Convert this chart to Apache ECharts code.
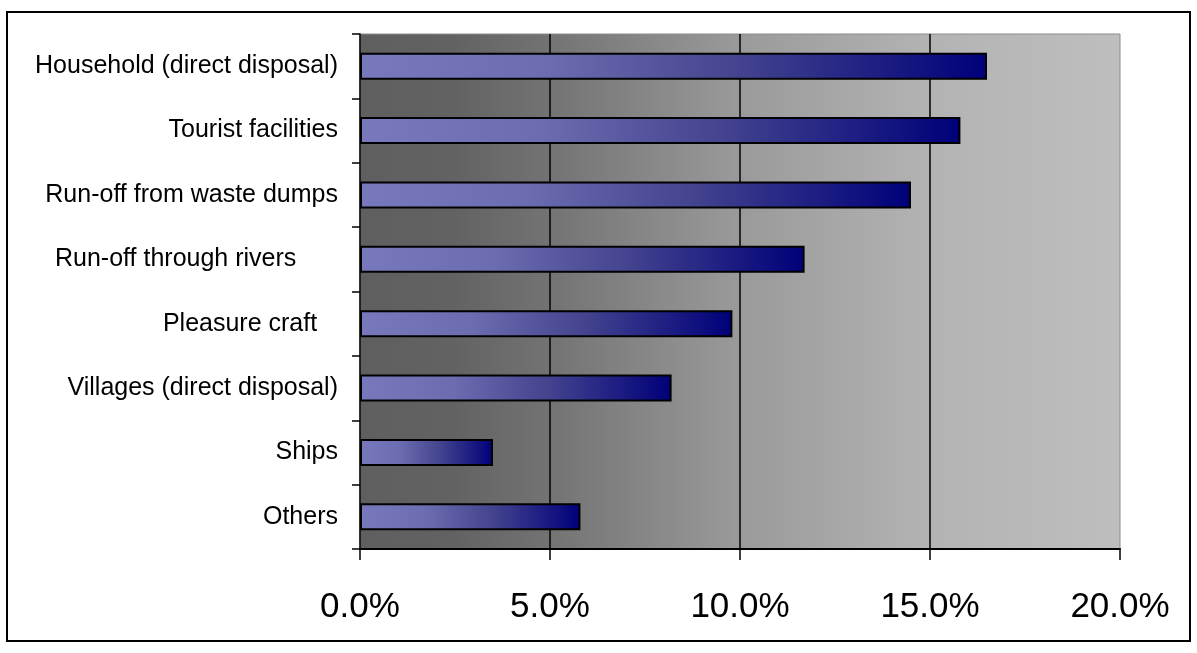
<!DOCTYPE html>
<html>
<head>
<meta charset="utf-8">
<script src="https://cdn.jsdelivr.net/npm/echarts@6/dist/echarts.min.js"></script>
<style>
  html, body { margin: 0; padding: 0; background: #fff; }
  #chart { width: 1197px; height: 653px; }
</style>
</head>
<body>
<div id="chart"></div>
<script>
// Sources of marine litter, share of total (%)
const categories = [
  'Household (direct disposal)',
  'Tourist facilities',
  'Run-off from waste dumps',
  'Run-off through rivers      ',
  'Pleasure craft   ',
  'Villages (direct disposal)',
  'Ships',
  'Others'
];
const shares = [16.5, 15.8, 14.5, 11.7, 9.8, 8.2, 3.5, 5.8];
const axisMax = 20;
const axisStep = 5;

const FONT = 'Arial, "Liberation Sans", sans-serif';

const chart = echarts.init(document.getElementById('chart'), null, { renderer: 'canvas' });

chart.setOption({
  animation: false,
  backgroundColor: '#ffffff',
  graphic: [{
    type: 'rect',
    shape: { x: 7, y: 12, width: 1183, height: 629 },
    style: { fill: 'none', stroke: '#000', lineWidth: 2 },
    z: 100
  }],
  grid: {
    left: 360, right: 77, top: 34, bottom: 104,
    show: true,
    borderColor: '#8c8c8c',
    borderWidth: 1,
    backgroundColor: new echarts.graphic.LinearGradient(0, 0, 1, 0, [
      { offset: 0, color: '#5f5f5f' },
      { offset: 0.12, color: '#626262' },
      { offset: 0.25, color: '#737373' },
      { offset: 0.5, color: '#9a9a9a' },
      { offset: 0.75, color: '#b3b3b3' },
      { offset: 1, color: '#bebebe' }
    ])
  },
  xAxis: {
    type: 'value',
    min: 0,
    max: axisMax,
    interval: axisStep,
    axisLine: { show: true, lineStyle: { color: '#000', width: 2 } },
    axisTick: { show: true, length: 11, lineStyle: { color: '#000', width: 1.5 } },
    axisLabel: {
      margin: 41,
      fontFamily: FONT,
      fontSize: 35,
      color: '#000',
      formatter: v => v.toFixed(1) + '%'
    },
    splitLine: {
      show: true,
      showMinLine: false,
      showMaxLine: false,
      lineStyle: { color: '#000', width: 1.5 }
    }
  },
  yAxis: {
    type: 'category',
    data: categories,
    inverse: true,
    axisLine: { show: true, lineStyle: { color: '#000', width: 1.5 } },
    axisTick: { show: true, length: 8, lineStyle: { color: '#000', width: 1.5 } },
    axisLabel: {
      margin: 22,
      fontFamily: FONT,
      fontSize: 25,
      color: '#000'
    },
    splitLine: { show: false }
  },
  series: [{
    type: 'bar',
    data: shares,
    barWidth: 27,
    itemStyle: {
      borderColor: '#000',
      borderWidth: 2,
      color: new echarts.graphic.LinearGradient(0, 0, 1, 0, [
        { offset: 0, color: '#7878bd' },
        { offset: 0.3, color: '#6c6cb1' },
        { offset: 0.6, color: '#44448f' },
        { offset: 1, color: '#00007a' }
      ])
    }
  }]
});
</script>
</body>
</html>
